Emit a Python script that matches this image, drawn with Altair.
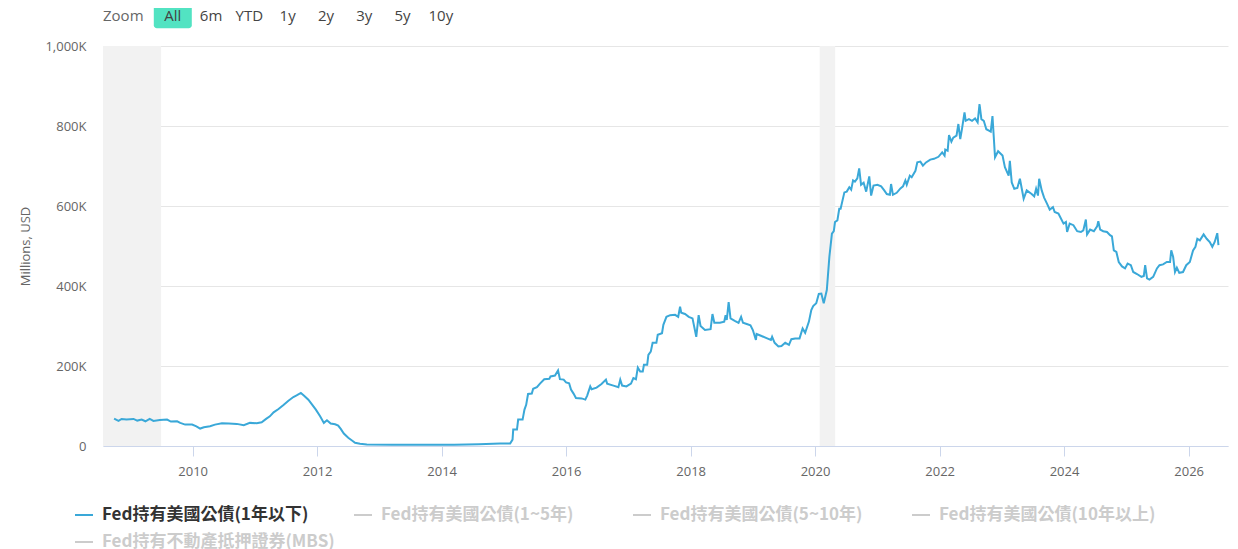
import altair as alt
import pandas as pd

SERIES = [
    "Fed持有美國公債(1年以下)",
    "Fed持有美國公債(1~5年)",
    "Fed持有美國公債(5~10年)",
    "Fed持有美國公債(10年以上)",
    "Fed持有不動產抵押證券(MBS)",
]
SERIES_COLORS = ["#3aa8d8", "#cccccc", "#cccccc", "#cccccc", "#cccccc"]

RANGE_BUTTONS = ["All", "6m", "YTD", "1y", "2y", "3y", "5y", "10y"]

RECESSION_START = ["2007-12-01T00:00:00", "2020-01-28T00:00:00"]
RECESSION_END = ["2009-06-30T00:00:00", "2020-04-28T00:00:00"]

# decimal years of the weekly readings, and holdings in thousands of millions USD
YEARS = [
    2008.74, 2008.81, 2008.86, 2008.94, 2009.05, 2009.11, 2009.18, 2009.24, 2009.31, 2009.37,
    2009.47, 2009.59, 2009.65, 2009.75, 2009.80, 2009.88, 2009.99, 2010.06, 2010.12, 2010.18,
    2010.28, 2010.36, 2010.47, 2010.58, 2010.71, 2010.82, 2010.92, 2011.03, 2011.11, 2011.18,
    2011.24, 2011.30, 2011.38, 2011.46, 2011.54, 2011.62, 2011.67, 2011.74, 2011.79, 2011.86,
    2011.92, 2011.98, 2012.05, 2012.11, 2012.16, 2012.22, 2012.29, 2012.34, 2012.38, 2012.43,
    2012.50, 2012.56, 2012.61, 2012.69, 2012.80, 2013.20, 2013.70, 2014.20, 2014.60, 2014.94,
    2015.10, 2015.14, 2015.15, 2015.21, 2015.23, 2015.30, 2015.33, 2015.36, 2015.39, 2015.45,
    2015.47, 2015.53, 2015.58, 2015.65, 2015.73, 2015.75, 2015.82, 2015.87, 2015.90, 2015.96,
    2016.00, 2016.05, 2016.08, 2016.12, 2016.16, 2016.25, 2016.31, 2016.34, 2016.39, 2016.41,
    2016.49, 2016.57, 2016.64, 2016.66, 2016.76, 2016.84, 2016.87, 2016.90, 2016.97, 2017.04,
    2017.08, 2017.12, 2017.15, 2017.19, 2017.23, 2017.25, 2017.30, 2017.32, 2017.36, 2017.39,
    2017.45, 2017.47, 2017.54, 2017.56, 2017.61, 2017.67, 2017.75, 2017.80, 2017.83, 2017.85,
    2017.91, 2017.97, 2018.03, 2018.09, 2018.13, 2018.16, 2018.23, 2018.32, 2018.35, 2018.38,
    2018.47, 2018.54, 2018.56, 2018.58, 2018.61, 2018.64, 2018.71, 2018.77, 2018.81, 2018.84,
    2018.90, 2018.96, 2019.00, 2019.05, 2019.06, 2019.14, 2019.23, 2019.29, 2019.31, 2019.35,
    2019.41, 2019.46, 2019.52, 2019.58, 2019.62, 2019.68, 2019.75, 2019.80, 2019.84, 2019.90,
    2019.94, 2019.97, 2020.02, 2020.06, 2020.10, 2020.14, 2020.19, 2020.23, 2020.27, 2020.30,
    2020.32, 2020.36, 2020.39, 2020.41, 2020.47, 2020.51, 2020.55, 2020.58, 2020.61, 2020.64,
    2020.68, 2020.71, 2020.74, 2020.78, 2020.82, 2020.87, 2020.90, 2020.94, 2021.00, 2021.06,
    2021.11, 2021.15, 2021.20, 2021.22, 2021.25, 2021.31, 2021.37, 2021.41, 2021.45, 2021.47,
    2021.52, 2021.55, 2021.61, 2021.64, 2021.69, 2021.73, 2021.78, 2021.85, 2021.91, 2021.98,
    2022.04, 2022.08, 2022.09, 2022.13, 2022.15, 2022.19, 2022.22, 2022.27, 2022.30, 2022.33,
    2022.36, 2022.40, 2022.42, 2022.47, 2022.52, 2022.57, 2022.61, 2022.64, 2022.67, 2022.71,
    2022.75, 2022.80, 2022.82, 2022.85, 2022.89, 2022.94, 2023.01, 2023.05, 2023.11, 2023.13,
    2023.16, 2023.20, 2023.25, 2023.29, 2023.35, 2023.40, 2023.48, 2023.52, 2023.55, 2023.58,
    2023.60, 2023.64, 2023.68, 2023.73, 2023.77, 2023.82, 2023.85, 2023.91, 2023.94, 2023.99,
    2024.03, 2024.05, 2024.09, 2024.15, 2024.21, 2024.27, 2024.31, 2024.35, 2024.37, 2024.42,
    2024.48, 2024.53, 2024.55, 2024.58, 2024.63, 2024.69, 2024.74, 2024.77, 2024.80, 2024.84,
    2024.88, 2024.93, 2024.98, 2025.02, 2025.07, 2025.11, 2025.17, 2025.24, 2025.28, 2025.30,
    2025.33, 2025.37, 2025.43, 2025.49, 2025.53, 2025.59, 2025.65, 2025.70, 2025.72, 2025.75,
    2025.78, 2025.81, 2025.85, 2025.91, 2025.96, 2026.02, 2026.07, 2026.11, 2026.14, 2026.18,
    2026.24, 2026.29, 2026.34, 2026.38, 2026.42, 2026.46, 2026.48,
]
VALUES_K = [
    68.5, 62.7, 67.7, 66, 67.7, 63.5, 66, 61.8, 67.7, 62.7,
    65.2, 66, 61, 61.8, 57.8, 53.5, 53.5, 49.3, 43.6, 46.8,
    49.3, 53.5, 56.8, 56, 55.3, 51.8, 57.8, 56.8, 59.3, 67.7,
    74.2, 84.2, 92.6, 102.6, 113.3, 122.5, 126.5, 132.5, 125.7, 115.8,
    103.3, 90.9, 74.2, 57.8, 64.2, 56, 54.3, 51, 42.8, 31.1,
    20.4, 13.7, 8, 5.5, 3.7, 3, 3, 3.2, 4.5, 6,
    6.2, 16, 41, 41, 66, 66, 91, 103, 130, 131,
    143, 147, 156, 167, 168, 174, 176, 189, 167, 166,
    159, 157, 141, 131, 120, 119, 116, 126, 149, 142,
    146, 155, 166, 156, 151, 147, 166, 151, 149, 156,
    170, 167, 196, 186, 186, 203, 203, 228, 236, 258,
    258, 278, 282, 303, 323, 327, 328, 323, 348, 333,
    330, 323, 319, 273, 327, 300, 290, 292, 330, 308,
    308, 311, 327, 315, 360, 319, 313, 308, 323, 308,
    305, 302, 290, 265, 280, 275, 269, 265, 273, 258,
    249, 250, 258, 253, 267, 269, 269, 294, 283, 311,
    340, 350, 357, 380, 381, 357, 390, 473, 531, 537,
    560, 564, 593, 593, 634, 636, 647, 641, 664, 661,
    669, 694, 653, 658, 636, 674, 626, 651, 653, 649,
    639, 630, 628, 655, 628, 633, 644, 649, 664, 653,
    676, 672, 688, 709, 711, 701, 709, 716, 718, 723,
    734, 726, 741, 738, 777, 761, 771, 776, 805, 767,
    792, 834, 813, 817, 813, 819, 809, 855, 817, 813,
    792, 788, 786, 825, 722, 737, 726, 697, 676, 713,
    659, 643, 645, 668, 618, 639, 630, 624, 643, 626,
    668, 639, 621, 604, 591, 597, 585, 581, 572, 556,
    560, 535, 556, 552, 537, 535, 539, 566, 529, 541,
    537, 549, 562, 541, 537, 535, 527, 524, 489, 485,
    460, 449, 444, 456, 452, 435, 430, 423, 425, 452,
    419, 416, 423, 444, 452, 454, 460, 460, 489, 473,
    435, 446, 433, 435, 452, 460, 489, 498, 518, 514,
    529, 518, 510, 498, 510, 532, 502,
]


def to_iso(decimal_year: float) -> str:
    year = int(decimal_year)
    start = pd.Timestamp(year=year, month=1, day=1)
    day = start + pd.Timedelta(days=round((decimal_year - year) * 365.25))
    return day.strftime("%Y-%m-%dT00:00:00")


def main() -> None:
    df = pd.DataFrame(
        {
            "date": [to_iso(y) for y in YEARS],
            "value": VALUES_K,
            "series": SERIES[0],
        }
    )
    bands_df = pd.DataFrame({"start": RECESSION_START, "end": RECESSION_END})
    buttons_df = pd.DataFrame(
        {"label": RANGE_BUTTONS, "selected": [b == "All" for b in RANGE_BUTTONS]}
    )

    x_scale = alt.Scale(
        domain=[
            alt.DateTime(year=2008, month=7, date=24),
            alt.DateTime(year=2026, month=8, date=20),
        ]
    )
    x_axis = alt.Axis(
        values=[alt.DateTime(year=y, month=1, date=1) for y in range(2010, 2027, 2)],
        format="%Y",
        title=None,
        grid=False,
        domainColor="#ccd6eb",
        tickColor="#ccd6eb",
        tickSize=10,
        labelFont="Open Sans",
        labelFontSize=13,
        labelColor="#666666",
        labelPadding=9,
    )
    y_axis = alt.Axis(
        values=[0, 200, 400, 600, 800, 1000],
        labelExpr="datum.value == 0 ? '0' : format(datum.value, ',') + 'K'",
        grid=True,
        gridColor="#e6e6e6",
        domain=False,
        ticks=False,
        labelFont="Open Sans",
        labelFontSize=13,
        labelColor="#666666",
        labelPadding=17,
        titleFont="Open Sans",
        titleFontSize=13,
        titleFontWeight="normal",
        titleColor="#666666",
        titlePadding=12,
    )
    legend = alt.Legend(
        title=None,
        orient="none",
        legendX=-29,
        legendY=459,
        direction="horizontal",
        columns=4,
        gridAlign="all",
        columnPadding=15,
        rowPadding=9,
        symbolType="stroke",
        symbolSize=324,
        symbolStrokeWidth=2,
        labelFont="Noto Sans CJK TC",
        labelFontSize=17,
        labelFontWeight="bold",
        labelColor=alt.ExprRef(
            expr=f"datum.label == '{SERIES[0]}' ? '#333333' : '#cccccc'"
        ),
        labelLimit=400,
        labelOffset=8,
    )

    bands = (
        alt.Chart(bands_df)
        .mark_rect(color="#f2f2f2", clip=True)
        .encode(x=alt.X("start:T", scale=x_scale, axis=x_axis), x2="end:T")
    )
    line = (
        alt.Chart(df)
        .mark_line(strokeWidth=2, clip=True)
        .encode(
            x=alt.X("date:T", scale=x_scale, axis=x_axis),
            y=alt.Y(
                "value:Q",
                scale=alt.Scale(domain=[0, 1000]),
                axis=y_axis,
                title="Millions, USD",
            ),
            color=alt.Color(
                "series:N",
                scale=alt.Scale(domain=SERIES, range=SERIES_COLORS),
                legend=legend,
            ),
        )
    )

    btn_scale = alt.Scale(type="point", domain=RANGE_BUTTONS, range=[69.8, 337.8], padding=0)
    selected_btn = (
        alt.Chart(buttons_df)
        .transform_filter("datum.selected")
        .mark_rect(width=38, cornerRadius=3, color="#52e3c2")
        .encode(
            x=alt.X("label:N", scale=btn_scale, axis=None),
            y=alt.value(-43.7),
            y2=alt.value(-17.7),
        )
    )
    btn_text = (
        alt.Chart(buttons_df)
        .mark_text(font="Open Sans", fontSize=15, color="#444444", baseline="middle")
        .encode(
            x=alt.X("label:N", scale=btn_scale, axis=None),
            y=alt.value(-30.5),
            text="label:N",
        )
    )
    zoom_text = (
        alt.Chart(pd.DataFrame({"t": ["Zoom"]}))
        .mark_text(
            font="Open Sans", fontSize=15, color="#666666", align="left", baseline="middle"
        )
        .encode(x=alt.value(0), y=alt.value(-30.5), text="t:N")
    )

    chart = (
        alt.layer(alt.layer(bands, line), selected_btn, btn_text, zoom_text)
        .resolve_scale(x="independent")
        .properties(
            width=1125,
            height=400,
            autosize=alt.AutoSizeParams(type="none"),
            padding={"left": 95, "top": 38, "right": 2, "bottom": 103},
        )
        .configure_view(stroke=None)
    )
    chart.save("out.html", embed_options={"renderer": "svg", "actions": False})


if __name__ == "__main__":
    main()
